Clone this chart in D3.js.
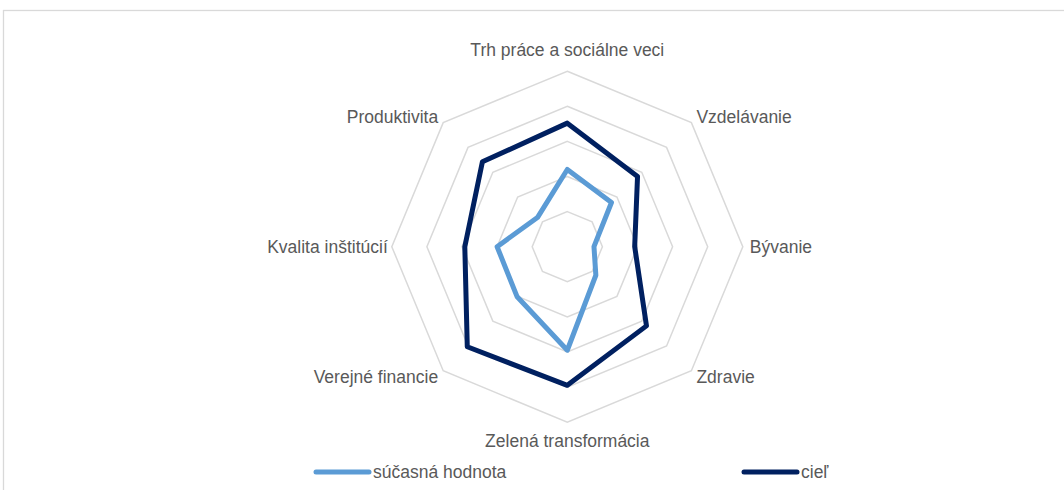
<!DOCTYPE html>
<html>
<head>
<meta charset="utf-8">
<script src="https://cdn.jsdelivr.net/npm/d3@7"></script>
<style>
  body { margin: 0; background: #fff; }
  svg { display: block; font-family: "Liberation Sans", Arial, sans-serif; }
</style>
</head>
<body>
<div id="chart"></div>
<script>
const categories = ["Trh práce a sociálne veci", "Vzdelávanie", "Bývanie", "Zdravie",
    "Zelená transformácia", "Verejné financie", "Kvalita inštitúcií", "Produktivita"];
const currentValues = [2.2, 1.78, 0.76, 1.15, 2.95, 2.02, 2.0, 1.19];
const targetValues = [3.52, 2.83, 1.92, 3.19, 3.95, 4.03, 2.92, 3.42];
const gridLevels = [1, 2, 3, 4, 5];
const seriesNames = ["súčasná hodnota", "cieľ"];

const width = 1064, height = 490;
const cx = 567.3, cy = 246.7;
const fontSize = 17.5;

const svg = d3.select("#chart").append("svg")
    .attr("width", width)
    .attr("height", height);

// chart frame
svg.append("rect")
    .attr("x", 3.5).attr("y", 10.5)
    .attr("width", 1100).attr("height", 600)
    .attr("fill", "none")
    .attr("stroke", "#d9d9d9")
    .attr("stroke-width", 1.3);

const r = d3.scaleLinear().domain([0, 5]).range([0, 175.5]);
const angle = d3.scaleLinear().domain([0, categories.length]).range([0, 2 * Math.PI]);

const g = svg.append("g").attr("transform", `translate(${cx},${cy})`);

const radial = d3.lineRadial()
    .angle((d, i) => angle(i))
    .radius(d => r(d))
    .curve(d3.curveLinearClosed);

// grid octagons
g.selectAll(".grid")
    .data(gridLevels)
    .join("path")
    .attr("class", "grid")
    .attr("d", lv => radial(categories.map(() => lv)))
    .attr("fill", "none")
    .attr("stroke", "#d9d9d9")
    .attr("stroke-width", 1.5);

// axis labels
const labelPos = categories.map((c, i) => {
    const a = angle(i);
    const sx = Math.sin(a), sy = -Math.cos(a);
    let x, y, anchor;
    if (Math.abs(sx) < 0.01) {
        x = 0; anchor = "middle";
        y = sy < 0 ? -r(5) - 21 : r(5) + 19;
    } else if (Math.abs(sy) < 0.01) {
        anchor = sx > 0 ? "start" : "end";
        x = sx > 0 ? r(5) + 7 : -r(5) - 4; y = 0;
    } else {
        anchor = sx > 0 ? "start" : "end";
        x = sx * r(5) + (sx > 0 ? 5 : -5);
        y = sy * r(5) + (sy < 0 ? -6 : 6);
    }
    return { c, x, y, anchor };
});

g.selectAll(".label")
    .data(labelPos)
    .join("text")
    .attr("class", "label")
    .attr("x", d => d.x)
    .attr("y", d => d.y)
    .attr("dy", "0.35em")
    .attr("text-anchor", d => d.anchor)
    .attr("fill", "#595959")
    .attr("font-size", fontSize)
    .text(d => d.c);

const series = [
    { name: seriesNames[0], values: currentValues, color: "#5b9bd5" },
    { name: seriesNames[1], values: targetValues, color: "#002060" }
];

g.selectAll(".series")
    .data(series)
    .join("path")
    .attr("class", "series")
    .attr("d", s => radial(s.values))
    .attr("fill", "none")
    .attr("stroke", s => s.color)
    .attr("stroke-width", 5)
    .attr("stroke-linejoin", "round");

// legend
const legendX = [316, 744];
const leg = svg.selectAll(".legend")
    .data(series)
    .join("g")
    .attr("class", "legend")
    .attr("transform", (d, i) => `translate(${legendX[i]},472)`);

leg.append("line")
    .attr("x1", 0).attr("x2", 53)
    .attr("stroke", d => d.color)
    .attr("stroke-width", 5)
    .attr("stroke-linecap", "round");

leg.append("text")
    .attr("x", 57)
    .attr("dy", "0.35em")
    .attr("fill", "#595959")
    .attr("font-size", fontSize)
    .text(d => d.name);
</script>
</body>
</html>
